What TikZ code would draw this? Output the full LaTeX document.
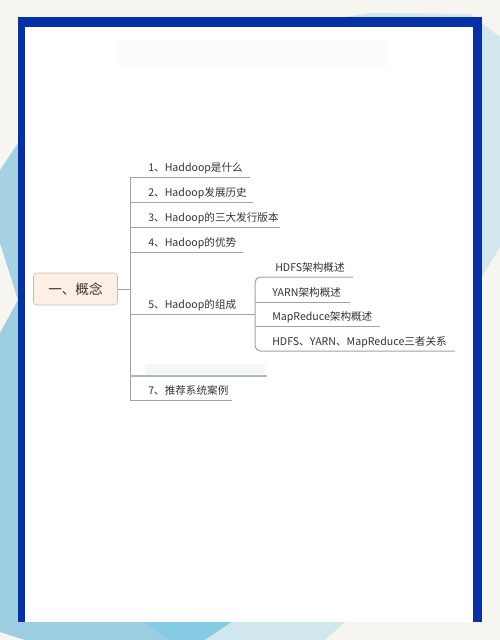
\documentclass[tikz,border=0pt]{standalone}
\usepackage{fontspec}
\newfontfamily\cjk{Noto Sans CJK SC}
\definecolor{bgpaper}{HTML}{F6F5EF}
\definecolor{bgblue_a}{HTML}{A5D1E3}
\definecolor{bgblue_b}{HTML}{9DCDE1}
\definecolor{bgblue_c}{HTML}{84CBE3}
\definecolor{bgblue_d}{HTML}{D0E7EE}
\definecolor{frameblue}{HTML}{0630A8}
\definecolor{rootfill}{HTML}{FCEFE5}
\definecolor{rootline}{HTML}{C9BBAE}
\definecolor{textgray}{HTML}{333333}
\definecolor{linegray}{HTML}{A2A2A2}
\definecolor{blurline}{HTML}{A9B6C3}
\definecolor{blurfill}{HTML}{F5F6F8}
\tikzset{
	node_root/.style = {
		draw=rootline,
		fill=rootfill,
		rounded corners=2.5pt,
		inner sep=0pt,
		minimum width=63pt,
		minimum height=24pt,
		text=textgray,
		font=\cjk\fontsize{10.2}{12}\selectfont
	},
	node_item/.style = {
		anchor=base west,
		inner sep=0pt,
		text=textgray,
		font=\cjk\fontsize{7.95}{9.5}\selectfont
	},
	node_sub/.style = {
		node_item
	},
	line_branch/.style = {
		draw=linegray,
		line width=0.75pt
	},
	line_blur/.style = {
		draw=blurline,
		line width=0.9pt
	},
}

\begin{document}
\begin{tikzpicture}[x=0.75pt, y=-0.75pt]
\useasboundingbox (0,0) rectangle (500,640);
\fill [bgpaper] (0,0) rectangle (500,640);
\fill [bgblue_a] (0,170) -- (18,143) -- (18,300) -- (0,243) -- cycle;
\fill [bgblue_b] (0,333) -- (18,300) -- (18,622) -- (143,622) -- (168,640) -- (25,640) -- (0,632) -- cycle;
\fill [bgblue_c] (143,622) -- (232,622) -- (205,640) -- (168,640) -- cycle;
\fill [bgblue_d] (232,622) -- (345,622) -- (325,640) -- (205,640) -- cycle;
\fill [bgblue_d] (345,17) -- (370,13) -- (470,14) -- (500,37) -- (500,247) -- (482,277) -- (482,17) -- cycle;
\fill [frameblue] (18,17) rectangle (482,622);
\fill [white] (25,27) rectangle (473,622);
\fill [black!1] (118,40) rectangle (387,67);
\fill [blurfill] (145,364) rectangle (265,374);

\node [node_root] (root) at (75.5,289) {一、概念};

\node [node_item] (i1) at (148,171) {1、Haddoop是什么};
\node [node_item] (i2) at (148,196) {2、Hadoop发展历史};
\node [node_item] (i3) at (148,221) {3、Hadoop的三大发行版本};
\node [node_item] (i4) at (148,246) {4、Hadoop的优势};
\node [node_item] (i5) at (148,308) {5、Hadoop的组成};
\node [node_item] (i7) at (148,394) {7、推荐系统案例};

\node [node_sub] (s1) at (275,271) {HDFS架构概述};
\node [node_sub] (s2) at (272,296) {YARN架构概述};
\node [node_sub] (s3) at (272,320) {MapReduce架构概述};
\node [node_sub] (s4) at (272,345) {HDFS、YARN、MapReduce三者关系};

\coordinate (l1) at (130,177);
\coordinate (l2) at (130,202);
\coordinate (l3) at (130,227);
\coordinate (l4) at (130,252);
\coordinate (l5) at (130,314);
\coordinate (l6) at (130,376);
\coordinate (l7) at (130,400);
\coordinate (r1) at (250,177);
\coordinate (r2) at (253,202);
\coordinate (r3) at (280,227);
\coordinate (r4) at (243,252);
\coordinate (r6) at (267,376);
\coordinate (r7) at (232,400);

\coordinate (k1) at (255,277);
\coordinate (k2) at (255,302);
\coordinate (k3) at (255,326);
\coordinate (k4) at (255,351);
\coordinate (k5) at (255,314);
\coordinate (e1) at (353,277);
\coordinate (e2) at (350,302);
\coordinate (e3) at (380,326);
\coordinate (e4) at (455,351);

\draw [line_branch] (root.east) -- (root.east -| l1);
\draw [line_branch] (l1) -- (l7);
\draw [line_branch] (l1) -- (r1);
\draw [line_branch] (l2) -- (r2);
\draw [line_branch] (l3) -- (r3);
\draw [line_branch] (l4) -- (r4);
\draw [line_branch] (l5) -- (k5);
\draw [line_blur] (l6) -- (r6);
\draw [line_branch] (l7) -- (r7);

\draw [line_branch, rounded corners=4pt] (e1) -- (k1) -- (k4) -- (e4);
\draw [line_branch] (k2) -- (e2);
\draw [line_branch] (k3) -- (e3);
\end{tikzpicture}
\end{document}
